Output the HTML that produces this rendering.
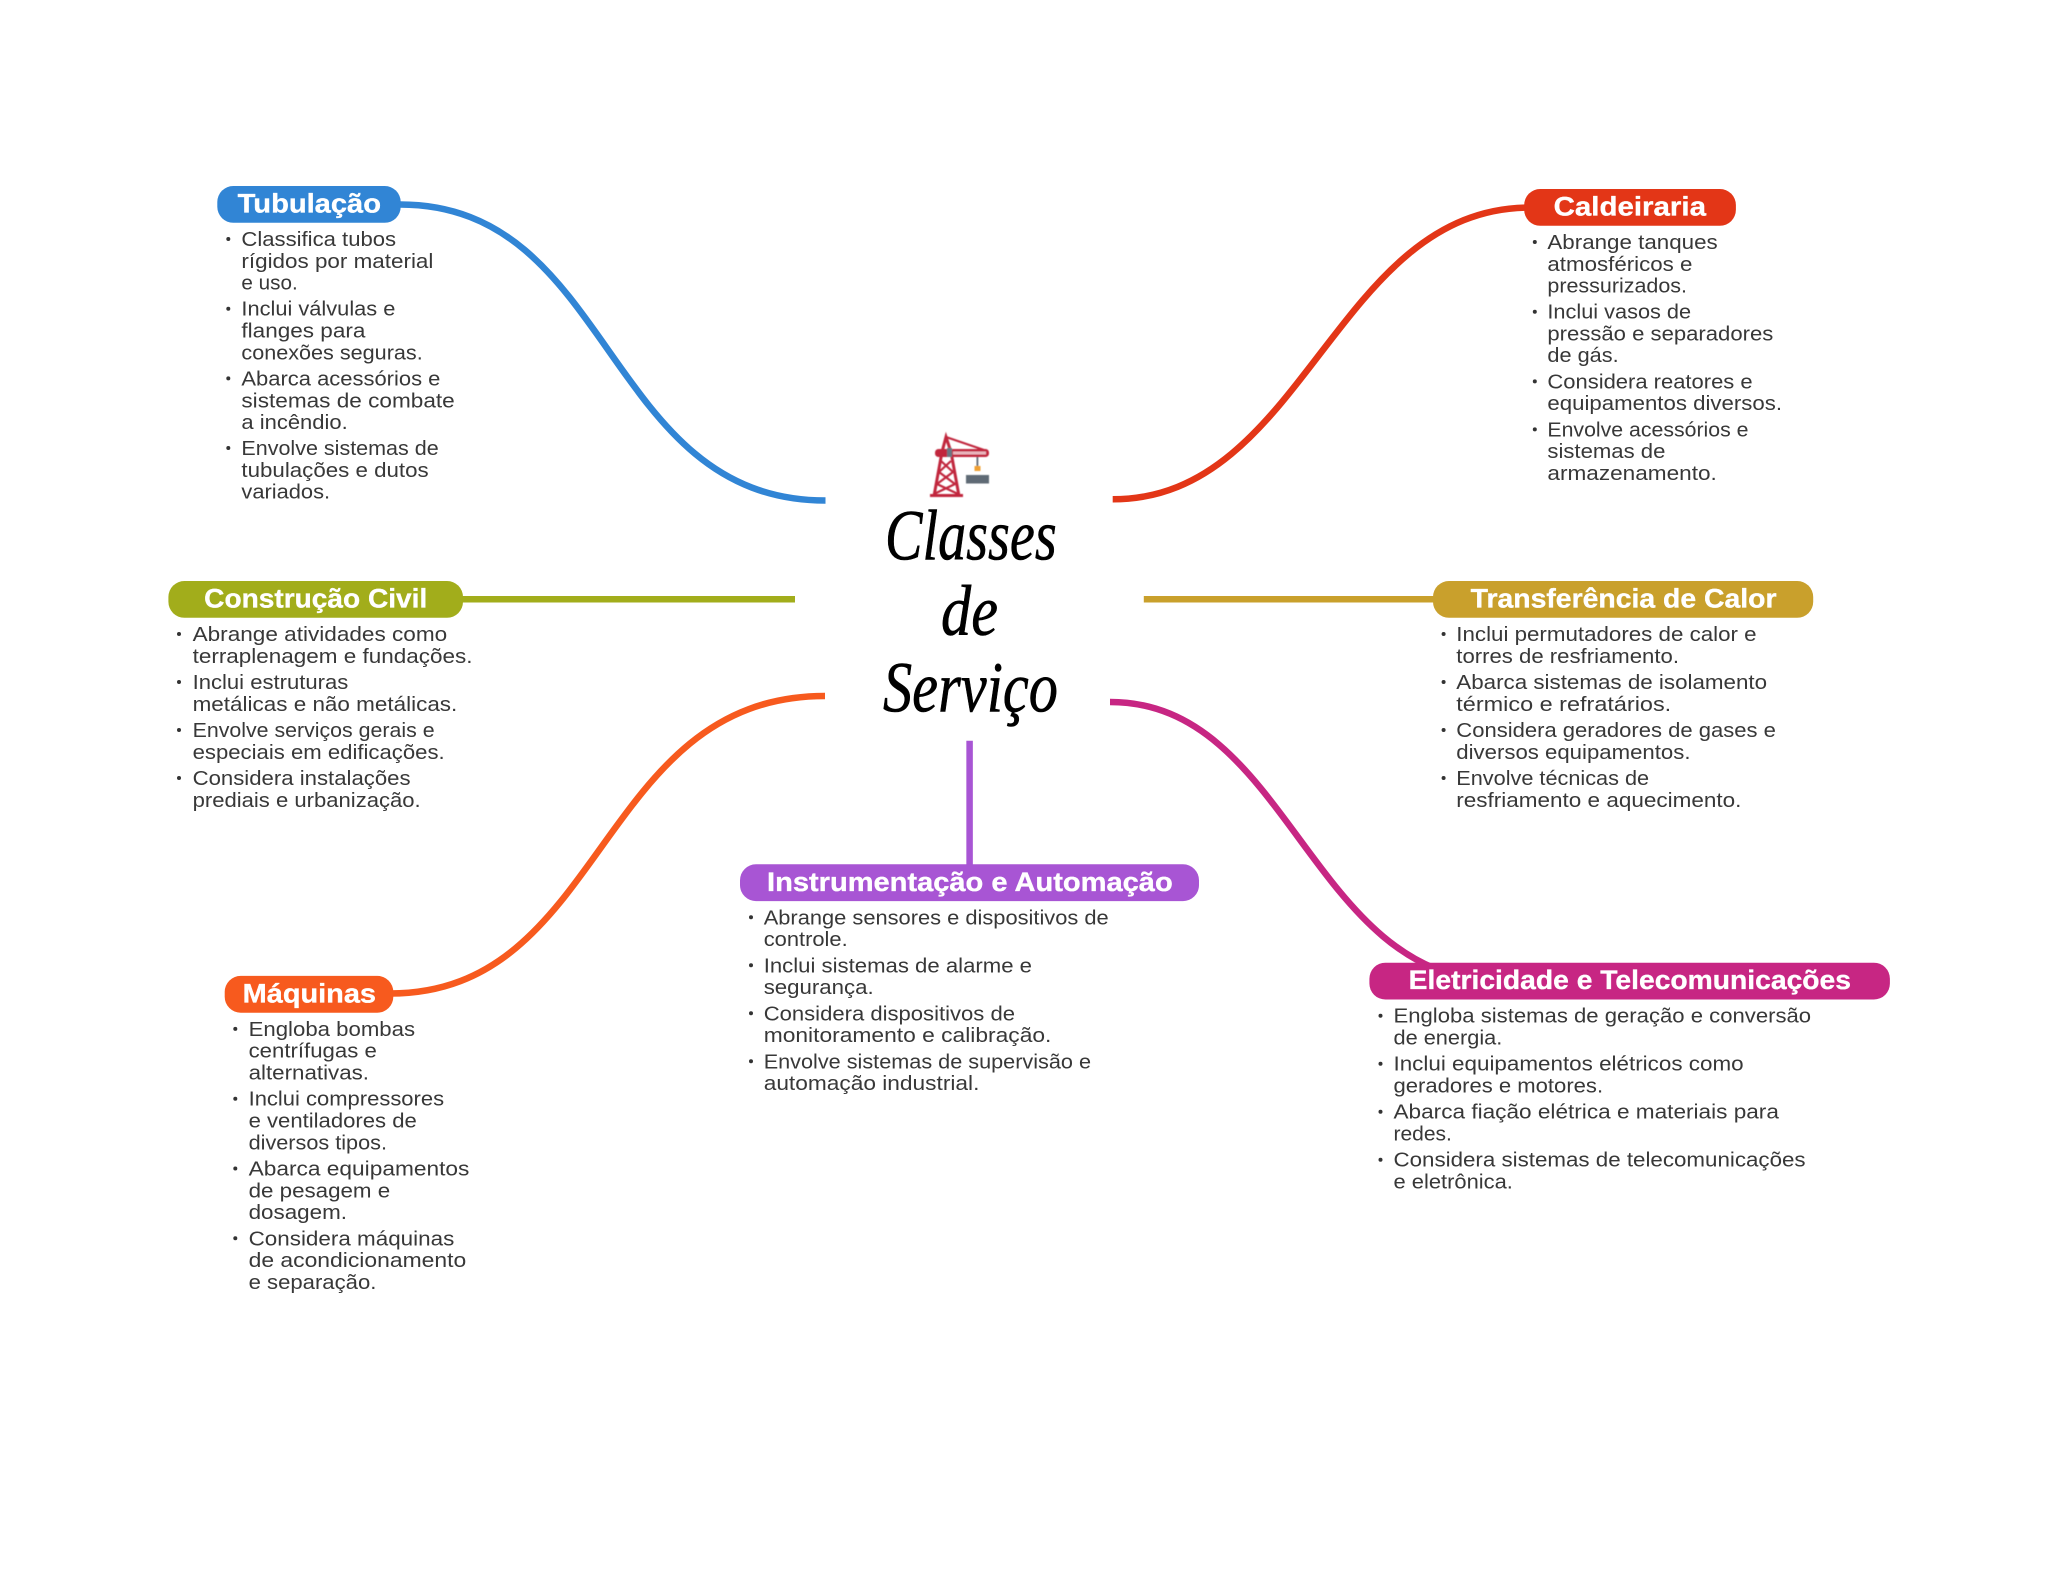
<!DOCTYPE html>
<html lang="pt"><head><meta charset="utf-8"><title>Classes de Serviço</title>
<style>
html,body{margin:0;padding:0;background:#fff}
svg{display:block}
.t{transform:translateX(-.6px)}
.t text{font-family:"Liberation Sans",sans-serif;font-size:20.5px;fill:#383838}
.h{font-family:"Liberation Sans",sans-serif;font-size:26.5px;font-weight:700;fill:#fff;stroke:#fff;stroke-width:.35px}
.s{font-family:"Liberation Serif",serif;font-style:italic;font-size:72px;fill:#000;stroke:#000;stroke-width:.6px}
.b circle{fill:#333}
path.c{fill:none;stroke-width:6.5}
</style></head><body>
<svg width="2048" height="1569" viewBox="0 0 2048 1569" xmlns="http://www.w3.org/2000/svg">
<defs><filter id="bl" x="-10%" y="-10%" width="120%" height="120%"><feGaussianBlur stdDeviation=".55"/></filter></defs>
<rect width="2048" height="1569" fill="#fff"/>

<!-- connectors -->
<path class="c" stroke="#3185D5" d="M400 204.500C614 204.500 604 500.500 825.500 500.500"/>
<path class="c" stroke="#E33617" d="M1112.700 499.300C1305 499.300 1335 207.500 1530 207.500"/>
<path class="c" stroke="#A2AD1B" d="M460 599.300H795"/>
<path class="c" stroke="#C9A02C" d="M1143.800 599.300H1436"/>
<path class="c" stroke="#F75A1E" d="M390 993.500C606 993.500 597 696 825 696"/>
<path class="c" stroke="#A855D4" d="M969.600 740.700V868"/>
<path class="c" stroke="#C72683" d="M1110 702C1290 702 1310 981 1500 981"/>

<!-- pills -->
<rect x="217.300" y="186" width="183.400" height="36.800" rx="16" fill="#3185D5"/>
<rect x="1524.200" y="189" width="211.700" height="36.800" rx="16" fill="#E33617"/>
<rect x="168.400" y="581" width="294.600" height="36.800" rx="16" fill="#A2AD1B"/>
<rect x="1433" y="581" width="380.200" height="36.800" rx="16" fill="#C9A02C"/>
<rect x="224.700" y="975.900" width="168.600" height="36.800" rx="16" fill="#F75A1E"/>
<rect x="740" y="864.300" width="459" height="36.800" rx="16" fill="#A855D4"/>
<rect x="1369.400" y="962.700" width="520.500" height="36.800" rx="16" fill="#C72683"/>

<text class="h" x="237.700" y="212.600" textLength="143.300" lengthAdjust="spacingAndGlyphs">Tubulação</text>
<text class="h" x="1553.600" y="215.500" textLength="152.400" lengthAdjust="spacingAndGlyphs">Caldeiraria</text>
<text class="h" x="204.200" y="607.500" textLength="223.100" lengthAdjust="spacingAndGlyphs">Construção Civil</text>
<text class="h" x="1470.700" y="607.500" textLength="305.800" lengthAdjust="spacingAndGlyphs">Transferência de Calor</text>
<text class="h" x="242.700" y="1002.400" textLength="133.300" lengthAdjust="spacingAndGlyphs">Máquinas</text>
<text class="h" x="767" y="890.800" textLength="405.700" lengthAdjust="spacingAndGlyphs">Instrumentação e Automação</text>
<text class="h" x="1408.700" y="989.200" textLength="442.300" lengthAdjust="spacingAndGlyphs">Eletricidade e Telecomunicações</text>

<!-- centre -->
<g filter="url(#bl)">
<g fill="none" stroke="#C1283C">
<path d="M934 496L942 452L946 437L951 452L959 496" stroke-width="3"/>
<path d="M941 461L953 472L937 484L958 494M951 461L939 472L955 484L934 494" stroke-width="2.200"/>
<path d="M946 437L987 451" stroke-width="2"/>
</g>
<rect x="930" y="494" width="33" height="3" fill="#C1283C"/>
<rect x="935" y="449" width="54" height="8" rx="3.500" fill="#C1283C"/>
<rect x="953" y="451.500" width="33" height="3" fill="#E9B5BE"/>
<rect x="947" y="448" width="5" height="9" fill="#6A7682"/>
<rect x="976.500" y="457" width="1.800" height="14" fill="#5F6B76"/>
<rect x="974.500" y="466" width="6" height="5" fill="#F0A030"/>
<rect x="966" y="475" width="23" height="8.500" fill="#5E6A74"/>
</g>
<text class="s" x="885" y="559.500" textLength="171.700" lengthAdjust="spacingAndGlyphs">Classes</text>
<text class="s" x="941" y="635" textLength="57" lengthAdjust="spacingAndGlyphs">de</text>
<text class="s" x="883" y="711.700" textLength="175" lengthAdjust="spacingAndGlyphs">Serviço</text>

<!-- Tubulação -->
<g class="b"><circle cx="228.300" cy="239" r="2"/><circle cx="228.300" cy="308.700" r="2"/><circle cx="228.300" cy="378.400" r="2"/><circle cx="228.300" cy="448" r="2"/></g>
<g class="t">
<text x="242" y="246" textLength="154.700" lengthAdjust="spacingAndGlyphs">Classifica tubos</text>
<text x="242" y="267.800" textLength="192" lengthAdjust="spacingAndGlyphs">rígidos por material</text>
<text x="242" y="289.500" textLength="56.300" lengthAdjust="spacingAndGlyphs">e uso.</text>
<text x="242" y="315.700" textLength="154" lengthAdjust="spacingAndGlyphs">Inclui válvulas e</text>
<text x="242" y="337.500" textLength="124" lengthAdjust="spacingAndGlyphs">flanges para</text>
<text x="242" y="359.300" textLength="181.300" lengthAdjust="spacingAndGlyphs">conexões seguras.</text>
<text x="242" y="385.500" textLength="199" lengthAdjust="spacingAndGlyphs">Abarca acessórios e</text>
<text x="242" y="407.300" textLength="213.300" lengthAdjust="spacingAndGlyphs">sistemas de combate</text>
<text x="242" y="429" textLength="106.300" lengthAdjust="spacingAndGlyphs">a incêndio.</text>
<text x="242" y="455.200" textLength="197.300" lengthAdjust="spacingAndGlyphs">Envolve sistemas de</text>
<text x="242" y="477" textLength="187.300" lengthAdjust="spacingAndGlyphs">tubulações e dutos</text>
<text x="242" y="498.500" textLength="88.700" lengthAdjust="spacingAndGlyphs">variados.</text>
</g>

<!-- Caldeiraria -->
<g class="b"><circle cx="1534.800" cy="242" r="2"/><circle cx="1534.800" cy="311.700" r="2"/><circle cx="1534.800" cy="381.400" r="2"/><circle cx="1534.800" cy="429.400" r="2"/></g>
<g class="t">
<text x="1548" y="249" textLength="170.300" lengthAdjust="spacingAndGlyphs">Abrange tanques</text>
<text x="1548" y="270.800" textLength="145" lengthAdjust="spacingAndGlyphs">atmosféricos e</text>
<text x="1548" y="292.500" textLength="139.600" lengthAdjust="spacingAndGlyphs">pressurizados.</text>
<text x="1548" y="318.700" textLength="143.700" lengthAdjust="spacingAndGlyphs">Inclui vasos de</text>
<text x="1548" y="340.500" textLength="225.900" lengthAdjust="spacingAndGlyphs">pressão e separadores</text>
<text x="1548" y="362.200" textLength="71.200" lengthAdjust="spacingAndGlyphs">de gás.</text>
<text x="1548" y="388.400" textLength="205.200" lengthAdjust="spacingAndGlyphs">Considera reatores e</text>
<text x="1548" y="410.200" textLength="234.600" lengthAdjust="spacingAndGlyphs">equipamentos diversos.</text>
<text x="1548" y="436.400" textLength="201.100" lengthAdjust="spacingAndGlyphs">Envolve acessórios e</text>
<text x="1548" y="458.200" textLength="118" lengthAdjust="spacingAndGlyphs">sistemas de</text>
<text x="1548" y="480" textLength="169.400" lengthAdjust="spacingAndGlyphs">armazenamento.</text>
</g>

<!-- Construção Civil -->
<g class="b"><circle cx="179" cy="634" r="2"/><circle cx="179" cy="682" r="2"/><circle cx="179" cy="730" r="2"/><circle cx="179" cy="778" r="2"/></g>
<g class="t">
<text x="193.200" y="641" textLength="254.600" lengthAdjust="spacingAndGlyphs">Abrange atividades como</text>
<text x="193.200" y="662.800" textLength="279.900" lengthAdjust="spacingAndGlyphs">terraplenagem e fundações.</text>
<text x="193.200" y="689" textLength="155.700" lengthAdjust="spacingAndGlyphs">Inclui estruturas</text>
<text x="193.200" y="710.800" textLength="264.700" lengthAdjust="spacingAndGlyphs">metálicas e não metálicas.</text>
<text x="193.200" y="737" textLength="242" lengthAdjust="spacingAndGlyphs">Envolve serviços gerais e</text>
<text x="193.200" y="758.800" textLength="252.100" lengthAdjust="spacingAndGlyphs">especiais em edificações.</text>
<text x="193.200" y="785" textLength="218" lengthAdjust="spacingAndGlyphs">Considera instalações</text>
<text x="193.200" y="806.800" textLength="228.100" lengthAdjust="spacingAndGlyphs">prediais e urbanização.</text>
</g>

<!-- Transferência de Calor -->
<g class="b"><circle cx="1443.600" cy="634" r="2"/><circle cx="1443.600" cy="682" r="2"/><circle cx="1443.600" cy="730" r="2"/><circle cx="1443.600" cy="778" r="2"/></g>
<g class="t">
<text x="1456.900" y="641" textLength="300.300" lengthAdjust="spacingAndGlyphs">Inclui permutadores de calor e</text>
<text x="1456.900" y="662.800" textLength="222.700" lengthAdjust="spacingAndGlyphs">torres de resfriamento.</text>
<text x="1456.900" y="689" textLength="310.800" lengthAdjust="spacingAndGlyphs">Abarca sistemas de isolamento</text>
<text x="1456.900" y="710.800" textLength="214.900" lengthAdjust="spacingAndGlyphs">térmico e refratários.</text>
<text x="1456.900" y="737" textLength="319.600" lengthAdjust="spacingAndGlyphs">Considera geradores de gases e</text>
<text x="1456.900" y="758.800" textLength="234.200" lengthAdjust="spacingAndGlyphs">diversos equipamentos.</text>
<text x="1456.900" y="785" textLength="192.800" lengthAdjust="spacingAndGlyphs">Envolve técnicas de</text>
<text x="1456.900" y="806.800" textLength="285.100" lengthAdjust="spacingAndGlyphs">resfriamento e aquecimento.</text>
</g>

<!-- Máquinas -->
<g class="b"><circle cx="235.300" cy="1028.900" r="2"/><circle cx="235.300" cy="1098.700" r="2"/><circle cx="235.300" cy="1168.500" r="2"/><circle cx="235.300" cy="1238.300" r="2"/></g>
<g class="t">
<text x="249.200" y="1035.900" textLength="166.500" lengthAdjust="spacingAndGlyphs">Engloba bombas</text>
<text x="249.200" y="1057.700" textLength="128.200" lengthAdjust="spacingAndGlyphs">centrífugas e</text>
<text x="249.200" y="1079.500" textLength="120.400" lengthAdjust="spacingAndGlyphs">alternativas.</text>
<text x="249.200" y="1105.700" textLength="195.500" lengthAdjust="spacingAndGlyphs">Inclui compressores</text>
<text x="249.200" y="1127.500" textLength="168.200" lengthAdjust="spacingAndGlyphs">e ventiladores de</text>
<text x="249.200" y="1149.300" textLength="138.400" lengthAdjust="spacingAndGlyphs">diversos tipos.</text>
<text x="249.200" y="1175.500" textLength="220.800" lengthAdjust="spacingAndGlyphs">Abarca equipamentos</text>
<text x="249.200" y="1197.300" textLength="141.600" lengthAdjust="spacingAndGlyphs">de pesagem e</text>
<text x="249.200" y="1219.100" textLength="98.400" lengthAdjust="spacingAndGlyphs">dosagem.</text>
<text x="249.200" y="1245.300" textLength="205.700" lengthAdjust="spacingAndGlyphs">Considera máquinas</text>
<text x="249.200" y="1267.100" textLength="217.600" lengthAdjust="spacingAndGlyphs">de acondicionamento</text>
<text x="249.200" y="1288.900" textLength="127.800" lengthAdjust="spacingAndGlyphs">e separação.</text>
</g>

<!-- Instrumentação e Automação -->
<g class="b"><circle cx="751" cy="917.300" r="2"/><circle cx="751" cy="965.300" r="2"/><circle cx="751" cy="1013.300" r="2"/><circle cx="751" cy="1061.300" r="2"/></g>
<g class="t">
<text x="764.300" y="924.300" textLength="345" lengthAdjust="spacingAndGlyphs">Abrange sensores e dispositivos de</text>
<text x="764.300" y="946.100" textLength="84" lengthAdjust="spacingAndGlyphs">controle.</text>
<text x="764.300" y="972.300" textLength="268.300" lengthAdjust="spacingAndGlyphs">Inclui sistemas de alarme e</text>
<text x="764.300" y="994.100" textLength="110" lengthAdjust="spacingAndGlyphs">segurança.</text>
<text x="764.300" y="1020.300" textLength="251.300" lengthAdjust="spacingAndGlyphs">Considera dispositivos de</text>
<text x="764.300" y="1042.100" textLength="287.700" lengthAdjust="spacingAndGlyphs">monitoramento e calibração.</text>
<text x="764.300" y="1068.300" textLength="327.300" lengthAdjust="spacingAndGlyphs">Envolve sistemas de supervisão e</text>
<text x="764.300" y="1090.100" textLength="215.700" lengthAdjust="spacingAndGlyphs">automação industrial.</text>
</g>

<!-- Eletricidade e Telecomunicações -->
<g class="b"><circle cx="1380.500" cy="1015.700" r="2"/><circle cx="1380.500" cy="1063.700" r="2"/><circle cx="1380.500" cy="1111.700" r="2"/><circle cx="1380.500" cy="1159.700" r="2"/></g>
<g class="t">
<text x="1394.100" y="1022.700" textLength="417.600" lengthAdjust="spacingAndGlyphs">Engloba sistemas de geração e conversão</text>
<text x="1394.100" y="1044.500" textLength="108.800" lengthAdjust="spacingAndGlyphs">de energia.</text>
<text x="1394.100" y="1070.700" textLength="350.100" lengthAdjust="spacingAndGlyphs">Inclui equipamentos elétricos como</text>
<text x="1394.100" y="1092.500" textLength="209.600" lengthAdjust="spacingAndGlyphs">geradores e motores.</text>
<text x="1394.100" y="1118.700" textLength="385.400" lengthAdjust="spacingAndGlyphs">Abarca fiação elétrica e materiais para</text>
<text x="1394.100" y="1140.500" textLength="58.400" lengthAdjust="spacingAndGlyphs">redes.</text>
<text x="1394.100" y="1166.700" textLength="412.100" lengthAdjust="spacingAndGlyphs">Considera sistemas de telecomunicações</text>
<text x="1394.100" y="1188.500" textLength="119.400" lengthAdjust="spacingAndGlyphs">e eletrônica.</text>
</g>
</svg>
</body></html>
